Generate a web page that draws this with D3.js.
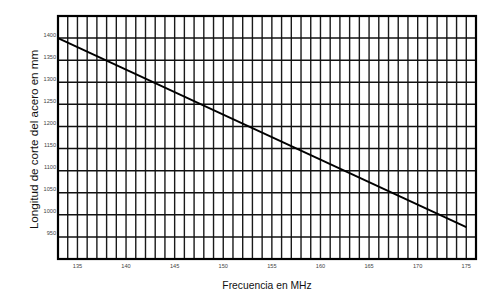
<!DOCTYPE html>
<html>
<head>
<meta charset="utf-8">
<script src="https://cdn.jsdelivr.net/npm/d3@7"></script>
<style>
	body { margin: 0; background: white; }
	svg { display: block; font-family: "Liberation Sans", Arial, sans-serif; }
</style>
</head>
<body>
<div id="chart"></div>
<script>
// datos
var freq = [133, 175];
var longitud = [1400, 972];
var xTicks = [135, 140, 145, 150, 155, 160, 165, 170, 175];
var yTicks = [950, 1000, 1050, 1100, 1150, 1200, 1250, 1300, 1350, 1400];

var ctx = {
	width: 500,
	height: 306,
	left: 58,
	right: 476,
	top: 16,
	bottom: 259,
};

var svg = d3.select("#chart")
	.append("svg")
	.attr("width", ctx.width)
	.attr("height", ctx.height);

var xscale = d3.scaleLinear()
	.domain([133, 176])
	.range([ctx.left, ctx.right]);

var yscale = d3.scaleLinear()
	.domain([900, 1450])
	.range([ctx.bottom, ctx.top]);

// rejilla vertical, una linea por MHz
svg.append("g")
	.selectAll("line")
	.data(d3.range(134, 176))
	.join("line")
	.attr("x1", d => xscale(d))
	.attr("x2", d => xscale(d))
	.attr("y1", ctx.top)
	.attr("y2", ctx.bottom)
	.attr("stroke", "#1a1a1a")
	.attr("stroke-width", 1.4);

// rejilla horizontal cada 50 mm
svg.append("g")
	.selectAll("line")
	.data(yTicks)
	.join("line")
	.attr("x1", ctx.left)
	.attr("x2", ctx.right)
	.attr("y1", d => yscale(d))
	.attr("y2", d => yscale(d))
	.attr("stroke", "#111")
	.attr("stroke-width", 1.5);

// marco
svg.append("rect")
	.attr("x", ctx.left)
	.attr("y", ctx.top)
	.attr("width", ctx.right - ctx.left)
	.attr("height", ctx.bottom - ctx.top)
	.attr("fill", "none")
	.attr("stroke", "#000")
	.attr("stroke-width", 2.2);

// recta de la longitud de corte
svg.append("path")
	.datum(d3.zip(freq, longitud))
	.attr("d", d3.line().x(d => xscale(d[0])).y(d => yscale(d[1])))
	.attr("fill", "none")
	.attr("stroke", "#000")
	.attr("stroke-width", 1.8);

// etiquetas de los ejes
svg.append("g")
	.selectAll("text")
	.data(xTicks)
	.join("text")
	.attr("x", d => xscale(d))
	.attr("y", 268)
	.attr("text-anchor", "middle")
	.style("font-size", "5.6px")
	.attr("fill", "#444")
	.text(d => d);

svg.append("g")
	.selectAll("text")
	.data(yTicks)
	.join("text")
	.attr("x", 56)
	.attr("y", d => yscale(d) - 1.5)
	.attr("text-anchor", "end")
	.style("font-size", "5.6px")
	.attr("fill", "#444")
	.text(d => d);

svg.append("text")
	.attr("x", 267)
	.attr("y", 289)
	.attr("text-anchor", "middle")
	.style("font-size", "10.3px")
	.attr("fill", "#111")
	.text("Frecuencia en MHz");

svg.append("text")
	.attr("transform", "translate(38," + 139.5 + ") rotate(-90)")
	.attr("text-anchor", "middle")
	.style("font-size", "11.6px")
	.attr("fill", "#111")
	.text("Longitud de corte del acero en mm");
</script>
</body>
</html>
